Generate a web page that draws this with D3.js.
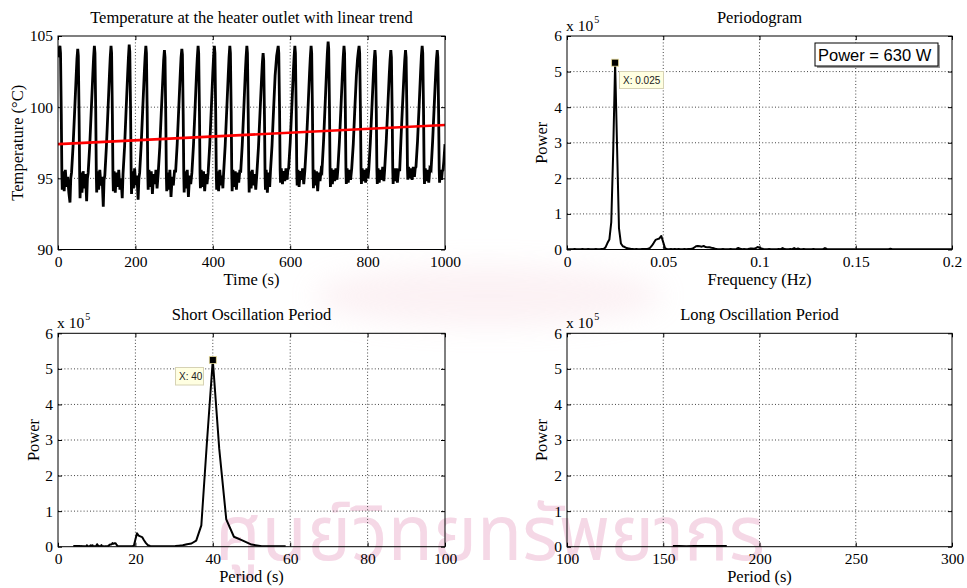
<!DOCTYPE html>
<html>
<head>
<meta charset="utf-8">
<script src="https://cdn.jsdelivr.net/npm/d3@7"></script>
<style>
  body { margin: 0; background: #fff; }
  svg text { font-family: "Liberation Serif", "Times New Roman", serif; fill: #000; }
</style>
</head>
<body>
<svg id="fig" width="967" height="588"></svg>
<script>
// ---- Heater outlet temperature record, [time (s), temperature (°C)] ----
const temperature = [
  [0,103.5],[2,104.1],[5,104.3],
  [6.5,103.8],[8.5,99.5],[10,95.3],[11,94.2],[13,95.5],[16,94.1],[19,95.6],[22,94.4],[25,95.1],[28,94.0],[31,93.3],[33,95.0],[35,95.4],[39,97.3],[43,99.7],[47,102.2],[49,103.4],[51,104.1],
  [52.5,103.6],[54.5,99.4],[56,95.2],[57,93.6],[59,95.4],[62,94.0],[65,95.5],[68,94.3],[71,95.3],[74,93.4],[76,95.0],[78,95.4],[82,97.3],[86,99.8],[90,102.3],[92,103.5],[94,104.3],
  [95.5,103.8],[97.5,99.7],[99,95.3],[100,94.0],[102,95.5],[105,94.2],[108,95.6],[111,94.5],[114,95.1],[117,93.0],[119,94.9],[121,95.2],[125,97.2],[129,99.7],[133,102.3],[135,103.5],[137,104.3],
  [138.5,103.8],[140.5,99.5],[142,95.2],[143,94.1],[145,95.5],[148,94.0],[151,95.4],[154,94.4],[157,95.6],[160,94.2],[163,95.0],[166,93.6],[168,95.3],[172,97.2],[176,99.8],[180,102.3],[182,103.5],[184,104.4],
  [185.5,103.9],[187.5,99.8],[189,95.4],[190,93.9],[192,95.5],[195,94.3],[198,95.7],[201,94.5],[204,95.2],[207,93.5],[209,95.0],[211,95.4],[215,97.4],[219,99.9],[223,102.4],[225,103.5],[227,104.3],
  [228.5,103.8],[230.5,99.6],[232,95.3],[233,94.2],[235,95.6],[238,94.4],[241,95.5],[244,93.9],[247,95.3],[250,94.6],[253,95.6],[256,94.3],[259,95.4],[263,97.2],[267,99.7],[271,102.1],[273,103.3],[275,104.0],
  [276.5,103.5],[278.5,99.3],[280,95.2],[281,94.1],[283,95.4],[286,94.2],[289,95.6],[292,93.7],[295,95.1],[298,94.5],[301,95.5],[304,95.5],[308,97.4],[312,99.9],[316,102.4],[318,103.5],[320,104.1],
  [321.5,103.7],[323.5,99.5],[325,95.3],[326,94.0],[328,95.5],[331,94.3],[334,95.6],[337,93.7],[340,95.2],[343,94.6],[346,95.4],[350,97.3],[354,99.8],[358,102.4],[360,103.5],[362,104.3],
  [363.5,103.8],[365.5,99.7],[367,95.4],[368,94.3],[370,95.6],[373,94.4],[376,95.5],[379,94.1],[382,95.3],[385,94.6],[388,95.4],[392,97.3],[396,99.8],[400,102.4],[402,103.5],[404,104.3],
  [405.5,103.8],[407.5,99.6],[409,95.3],[410,94.2],[412,95.5],[415,94.1],[418,95.6],[421,94.5],[424,95.2],[426,94.3],[428,95.4],[432,97.3],[436,99.8],[440,102.3],[442,103.5],[444,104.3],
  [445.5,103.8],[447.5,99.7],[449,95.4],[450,94.1],[452,95.6],[455,94.4],[458,95.5],[461,94.2],[464,95.4],[467,94.7],[470,95.6],[472,95.4],[476,97.3],[480,99.8],[484,102.4],[486,103.5],[488,104.3],
  [489.5,103.8],[491.5,99.6],[493,95.4],[494,94.0],[496,95.5],[499,94.3],[502,95.6],[505,94.5],[508,95.3],[511,94.2],[514,95.4],[518,97.2],[522,99.6],[526,102.0],[528,103.1],[530,103.8],
  [531.5,103.3],[533.5,99.4],[535,95.3],[536,94.2],[538,95.6],[541,94.0],[544,95.4],[547,94.4],[549,95.5],[553,97.3],[557,99.8],[561,102.2],[565,103.6],[569,104.3],
  [570.5,103.8],[572.5,99.8],[574,95.6],[575,94.7],[577,95.7],[580,94.6],[583,95.5],[586,94.8],[589,95.7],[592,94.9],[594,95.6],[596,95.7],[600,97.5],[604,99.9],[608,102.4],[610,103.5],[612,104.3],
  [613.5,103.8],[615.5,99.7],[617,95.5],[618,94.5],[620,95.6],[623,94.4],[626,95.5],[629,94.9],[632,95.7],[635,94.6],[638,95.6],[642,97.5],[646,99.9],[650,102.4],[652,103.5],[654,104.3],
  [655.5,103.8],[657.5,99.7],[659,95.4],[660,94.3],[662,95.6],[665,94.5],[668,95.5],[671,94.1],[674,95.4],[677,94.8],[680,95.6],[682,95.5],[686,97.5],[690,100.0],[694,102.6],[696,103.8],[698,104.6],
  [699.5,104.1],[701.5,99.9],[703,95.5],[704,94.4],[706,95.7],[709,94.6],[712,95.6],[715,94.8],[718,95.7],[721,94.9],[723,95.6],[727,97.5],[731,99.9],[735,102.4],[737,103.5],[739,104.3],
  [740.5,103.8],[742.5,99.8],[744,95.6],[745,94.6],[747,95.7],[750,94.7],[753,95.6],[756,94.9],[759,95.7],[763,97.4],[767,99.9],[771,102.2],[774,103.4],[776,103.9],[778,104.3],
  [779.5,103.8],[781.5,99.7],[783,95.6],[784,94.6],[786,95.7],[789,94.8],[792,95.6],[795,94.7],[798,95.7],[801,95.0],[803,95.6],[807,97.5],[811,99.9],[815,102.3],[817,103.3],[819,104.0],
  [820.5,103.5],[822.5,99.6],[824,95.6],[825,94.6],[827,95.7],[830,94.7],[833,95.6],[836,94.9],[839,95.8],[842,94.8],[844,95.6],[848,97.5],[852,99.9],[856,102.3],[858,103.3],[860,104.0],
  [861.5,103.5],[863.5,99.6],[865,95.6],[866,94.6],[868,95.7],[871,94.8],[874,95.7],[877,94.7],[880,95.6],[883,95.6],[886,97.6],[890,100.0],[894,102.3],[896,103.3],[898,104.0],
  [899.5,103.5],[901.5,99.7],[903,95.7],[904,94.9],[906,95.8],[909,95.0],[912,95.7],[915,94.9],[918,95.8],[921,95.1],[923,95.7],[925,95.8],[929,97.6],[933,100.0],[937,102.5],[939,103.6],[941,104.3],
  [942.5,103.8],[944.5,99.8],[946,95.6],[947,94.6],[949,95.7],[952,94.8],[955,95.6],[958,94.7],[961,95.7],[964,95.6],[968,97.6],[972,100.0],[976,102.4],[978,103.4],[980,104.0],
  [981.5,103.5],[983.5,99.6],[985,95.6],[986,94.7],[988,95.6],[991,94.9],[993,95.5],[995,95.6],[997,96.2],[1000,97.4]
];

// Linear trend fitted through the record (end points)
const trendTime = [0, 1000];
const trendTemp = [97.4, 98.75];

// ---- Periodogram: power (x 10^5) on a 0.001 Hz grid, starting at 0 Hz ----
const freqStep = 0.001;
const powerE5 = [
  0.010,0.010,0.008,0.010,0.012,0.010,0.008,0.010,0.012,0.010,
  0.010,0.012,0.010,0.008,0.010,0.012,0.010,0.010,0.012,0.015,
  0.060,0.180,0.280,0.770,2.750,5.250,2.900,0.600,0.170,0.090,
  0.070,0.040,0.030,0.020,0.015,0.010,0.012,0.010,0.010,0.012,
  0.015,0.012,0.020,0.040,0.100,0.180,0.270,0.290,0.310,0.380,
  0.200,0.030,0.015,0.010,0.012,0.010,0.015,0.010,0.012,0.010,
  0.010,0.012,0.010,0.015,0.012,0.020,0.050,0.090,0.100,0.090,
  0.080,0.100,0.070,0.060,0.065,0.050,0.040,0.020,0.012,0.010,
  0.010,0.012,0.010,0.008,0.010,0.012,0.010,0.010,0.015,0.045,
  0.020,0.010,0.012,0.010,0.015,0.025,0.030,0.020,0.040,0.070,
  0.050,0.030,0.012,0.010,0.010,0.012,0.010,0.008,0.010,0.010,
  0.012,0.010,0.040,0.012,0.010,0.010,0.012,0.010,0.040,0.010,
  0.030,0.010,0.010,0.012,0.010,0.008,0.010,0.010,0.012,0.010,
  0.010,0.008,0.010,0.010,0.040,0.015,0.010,0.008,0.010,0.010,
  0.008,0.010,0.010,0.008,0.010,0.008,0.010,0.010,0.008,0.010,
  0.010,0.008,0.010,0.008,0.010,0.010,0.008,0.010,0.010,0.008,
  0.010,0.008,0.010,0.010,0.008,0.010,0.010,0.008,0.020,0.010,
  0.008,0.010,0.010,0.008,0.010,0.008,0.010,0.010,0.008,0.010,
  0.010,0.008,0.010,0.008,0.010,0.010,0.008,0.010,0.010,0.008,
  0.010,0.008,0.010,0.010,0.008,0.010,0.010,0.008,0.010,0.008,
  0.008,0.010,0.008,0.008,0.010,0.008,0.008,0.010,0.008,0.008,
  0.008,0.010,0.008,0.008,0.010,0.008,0.008,0.010,0.008,0.008,
  0.008,0.010,0.008,0.008,0.010,0.008,0.008,0.010,0.008,0.008,
  0.008,0.010,0.008,0.008,0.010,0.008,0.008,0.010,0.008,0.008,
  0.008,0.010,0.008,0.008,0.010,0.008,0.008,0.010,0.008,0.008,
  0.008
];
const shortPeriodMinIndex = 17;   // bins from 0.017 Hz upward form the short-period view

// Long-period band (period in s, power x 10^5)
const longPeriod = [155, 158, 162, 166, 170, 174, 178, 183];
const longPowerE5 = [0.012, 0.015, 0.010, 0.014, 0.012, 0.015, 0.011, 0.013];

// Axis ticks
const timeTicks = [0, 200, 400, 600, 800, 1000];
const tempTicks = [90, 95, 100, 105];
const freqTicks = [0, 0.05, 0.1, 0.15, 0.2];
const powerTicks = [0, 1, 2, 3, 4, 5, 6];
const shortTicks = [0, 20, 40, 60, 80, 100];
const longTicks = [100, 150, 200, 250, 300];

// Annotations
const peakFreq = 0.025, peakPeriod = 40, peakPowerE5 = 5.25;
const powerNote = "Power = 630 W";

// ------------------------------------------------------------------
const svg = d3.select("#fig");
const defs = svg.append("defs");
defs.append("filter").attr("id", "soft").attr("x", "-50%").attr("y", "-50%")
  .attr("width", "200%").attr("height", "200%")
  .append("feGaussianBlur").attr("stdDeviation", 14);

// faint background watermark
const wm = svg.append("g").attr("class", "watermark");
wm.append("ellipse").attr("cx", 488).attr("cy", 296).attr("rx", 175).attr("ry", 30)
  .attr("fill", "#f1c3cf").attr("opacity", 0.22).attr("filter", "url(#soft)");
wm.append("text")
  .attr("x", 490).attr("y", 560)
  .attr("text-anchor", "middle")
  .attr("textLength", 550)
  .attr("lengthAdjust", "spacingAndGlyphs")
  .style("font-family", "'Noto Sans Thai', 'Noto Sans', 'DejaVu Sans', sans-serif")
  .style("font-size", "76px")
  .style("fill", "#f5d8e6")
  .text("ศูนย์วิทยทรัพยากร");

const TICK_FONT = 15.5, LABEL_FONT = 16.5;

function panel(o) {
  const x = d3.scaleLinear().domain(o.xDomain).range([o.left, o.right]);
  const y = d3.scaleLinear().domain(o.yDomain).range([o.bottom, o.top]);
  const g = svg.append("g");
  const w = o.right - o.left, h = o.bottom - o.top;

  // dotted grid
  const grid = g.append("g").attr("stroke", "#444").attr("stroke-width", 1)
    .attr("stroke-dasharray", "1,2.2");
  o.xTicks.filter(v => v !== o.xDomain[0] && v !== o.xDomain[1]).forEach(v => {
    grid.append("line").attr("x1", x(v)).attr("x2", x(v)).attr("y1", o.top).attr("y2", o.bottom);
  });
  o.yTicks.filter(v => v !== o.yDomain[0] && v !== o.yDomain[1]).forEach(v => {
    grid.append("line").attr("y1", y(v)).attr("y2", y(v)).attr("x1", o.left).attr("x2", o.right);
  });

  // axes with inward ticks on all four sides
  const styleAxis = sel => {
    sel.select(".domain").remove();
    sel.attr("font-family", null).attr("font-size", null);
    sel.selectAll("line").attr("stroke", "#000");
    sel.selectAll("text").style("font-size", TICK_FONT + "px");
  };
  g.append("g").attr("transform", `translate(0,${o.bottom})`)
    .call(d3.axisBottom(x).tickValues(o.xTicks).tickFormat(o.xFmt).tickSize(-4).tickPadding(6))
    .call(styleAxis);
  g.append("g").attr("transform", `translate(0,${o.top})`)
    .call(d3.axisTop(x).tickValues(o.xTicks).tickFormat("").tickSize(-4))
    .call(styleAxis);
  g.append("g").attr("transform", `translate(${o.left},0)`)
    .call(d3.axisLeft(y).tickValues(o.yTicks).tickFormat(o.yFmt).tickSize(-4).tickPadding(5))
    .call(styleAxis);
  g.append("g").attr("transform", `translate(${o.right},0)`)
    .call(d3.axisRight(y).tickValues(o.yTicks).tickFormat("").tickSize(-4))
    .call(styleAxis);

  // clip region for the data
  const id = "clip" + Math.round(o.left) + "_" + Math.round(o.top);
  defs.append("clipPath").attr("id", id).append("rect")
    .attr("x", o.left).attr("y", o.top - 2).attr("width", w).attr("height", h + 2);
  const plot = g.append("g").attr("clip-path", `url(#${id})`);

  // labels
  g.append("text").attr("x", (o.left + o.right) / 2).attr("y", o.top - 13)
    .attr("text-anchor", "middle").style("font-size", LABEL_FONT + "px").text(o.title);
  g.append("text").attr("x", (o.left + o.right) / 2).attr("y", o.bottom + 35)
    .attr("text-anchor", "middle").style("font-size", LABEL_FONT + "px").text(o.xLabel);
  g.append("text").attr("transform", `translate(${o.yLabelX},${(o.top + o.bottom) / 2}) rotate(-90)`)
    .attr("text-anchor", "middle").style("font-size", LABEL_FONT + "px").text(o.yLabel);
  if (o.exponent) {
    const t = g.append("text").attr("x", o.left - 1).attr("y", o.top - 5.5)
      .style("font-size", TICK_FONT + "px");
    t.append("tspan").text("x 10");
    t.append("tspan").attr("dy", -8).attr("dx", 1).style("font-size", "10px").text(o.exponent);
  }

  return { x, y, g, plot, box: () =>
    g.append("rect").attr("x", o.left).attr("y", o.top).attr("width", w).attr("height", h)
      .attr("fill", "none").attr("stroke", "#000").attr("stroke-width", 1) };
}

function dataTip(p, xv, yv, label, bx, by, bw, bh) {
  p.g.append("rect").attr("x", bx).attr("y", by).attr("width", bw).attr("height", bh)
    .attr("fill", "#ffffe1").attr("stroke", "#d6d2b4").attr("stroke-width", 1);
  p.g.append("text").attr("x", bx + 3.5).attr("y", by + bh - 5)
    .style("font-family", "'Liberation Sans', Arial, sans-serif").style("font-size", "10px")
    .style("fill", "#222").text(label);
  p.g.append("rect").attr("x", p.x(xv) - 3.5).attr("y", p.y(yv) - 3.5).attr("width", 7).attr("height", 7)
    .attr("fill", "#000").attr("stroke", "#e8dc9a").attr("stroke-width", 0.8);
}

const fmtPlain = d => String(d);

// ---- Top left: temperature ----
const p1 = panel({
  left: 58, right: 445, top: 36, bottom: 249.5,
  xDomain: [0, 1000], yDomain: [90, 105], xTicks: timeTicks, yTicks: tempTicks,
  xFmt: fmtPlain, yFmt: fmtPlain,
  title: "Temperature at the heater outlet with linear trend",
  xLabel: "Time (s)", yLabel: "Temperature (°C)", yLabelX: 23
});
p1.plot.append("path").datum(temperature)
  .attr("d", d3.line().x(d => p1.x(d[0])).y(d => p1.y(d[1])))
  .attr("fill", "none").attr("stroke", "#000").attr("stroke-width", 2.8).attr("stroke-linejoin", "miter");
p1.plot.append("path").datum(trendTime.map((t, i) => [t, trendTemp[i]]))
  .attr("d", d3.line().x(d => p1.x(d[0])).y(d => p1.y(d[1])))
  .attr("fill", "none").attr("stroke", "#ff0000").attr("stroke-width", 2.6);
p1.box();

// ---- Top right: periodogram ----
const spectrum = powerE5.map((v, i) => ({ f: i * freqStep, p: v }));
const p2 = panel({
  left: 567, right: 952, top: 36, bottom: 249.5,
  xDomain: [0, 0.2], yDomain: [0, 6], xTicks: freqTicks, yTicks: powerTicks,
  xFmt: fmtPlain, yFmt: fmtPlain,
  title: "Periodogram", xLabel: "Frequency (Hz)", yLabel: "Power", yLabelX: 547, exponent: "5"
});
p2.plot.append("path").datum(spectrum.filter(d => d.f <= 0.2 + 1e-9))
  .attr("d", d3.line().x(d => p2.x(d.f)).y(d => p2.y(d.p)))
  .attr("fill", "none").attr("stroke", "#000").attr("stroke-width", 2).attr("stroke-linejoin", "round");
p2.box();
dataTip(p2, peakFreq, peakPowerE5, "X: 0.025", 619.5, 71.5, 44, 17);
// power annotation
p2.g.append("rect").attr("x", 817).attr("y", 45).attr("width", 123).attr("height", 23).attr("fill", "#999");
p2.g.append("rect").attr("x", 815).attr("y", 43).attr("width", 123).attr("height", 23)
  .attr("fill", "#fff").attr("stroke", "#000").attr("stroke-width", 1);
p2.g.append("text").attr("x", 818).attr("y", 60.5)
  .style("font-family", "'Liberation Sans', Arial, sans-serif").style("font-size", "16.5px")
  .text(powerNote);

// ---- Bottom left: short oscillation period ----
const shortSeries = spectrum.filter((d, i) => i >= shortPeriodMinIndex)
  .map(d => ({ period: 1 / d.f, p: d.p }))
  .sort((a, b) => a.period - b.period);
const p3 = panel({
  left: 58, right: 445, top: 333.3, bottom: 546.7,
  xDomain: [0, 100], yDomain: [0, 6], xTicks: shortTicks, yTicks: powerTicks,
  xFmt: fmtPlain, yFmt: fmtPlain,
  title: "Short Oscillation Period", xLabel: "Period (s)", yLabel: "Power", yLabelX: 39, exponent: "5"
});
p3.plot.append("path").datum(shortSeries)
  .attr("d", d3.line().x(d => p3.x(d.period)).y(d => p3.y(d.p)))
  .attr("fill", "none").attr("stroke", "#000").attr("stroke-width", 2).attr("stroke-linejoin", "round");
p3.box();
dataTip(p3, peakPeriod, peakPowerE5, "X: 40", 175.5, 367.5, 28, 17.5);

// ---- Bottom right: long oscillation period ----
const p4 = panel({
  left: 567, right: 952, top: 333.3, bottom: 546.7,
  xDomain: [100, 300], yDomain: [0, 6], xTicks: longTicks, yTicks: powerTicks,
  xFmt: fmtPlain, yFmt: fmtPlain,
  title: "Long Oscillation Period", xLabel: "Period (s)", yLabel: "Power", yLabelX: 547, exponent: "5"
});
p4.plot.append("path").datum(longPeriod.map((v, i) => [v, longPowerE5[i]]))
  .attr("d", d3.line().x(d => p4.x(d[0])).y(d => p4.y(d[1])))
  .attr("fill", "none").attr("stroke", "#000").attr("stroke-width", 2.4);
p4.box();
</script>
</body>
</html>
